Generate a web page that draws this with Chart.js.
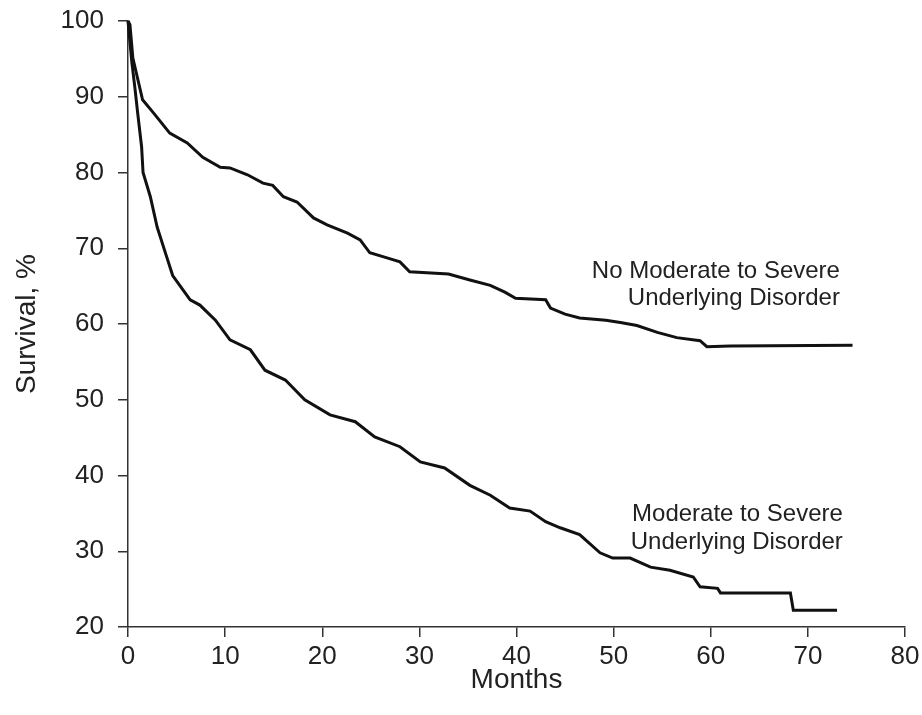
<!DOCTYPE html>
<html>
<head>
<meta charset="utf-8">
<script src="https://cdn.jsdelivr.net/npm/chart.js@4/dist/chart.umd.min.js"></script>
<style>
  html, body { margin: 0; padding: 0; background: #fff; }
</style>
</head>
<body>
<canvas id="chart" width="922" height="715"></canvas>
<script>
// ------------ DATA ------------------

const monthTicks = [0, 10, 20, 30, 40, 50, 60, 70, 80];
const survivalTicks = [20, 30, 40, 50, 60, 70, 80, 90, 100];

// No moderate to severe underlying disorder
const upperMonths = [0, 0.2, 0.5, 1.5, 2.6, 4.3, 6.1, 7.7, 9.5, 10.5, 12.3, 13.9, 14.9, 16.0, 17.4, 19.1, 20.5, 22.6, 23.9, 24.9, 26.5, 28.0, 29.0, 33.0, 35.2, 37.3, 38.8, 39.9, 43.0, 43.5, 45.0, 46.5, 49.2, 50.7, 52.4, 54.5, 56.5, 58.9, 59.6, 62.0, 74.6];
const upperSurvival = [100, 99.5, 95.1, 89.6, 87.9, 85.2, 83.9, 82.0, 80.7, 80.6, 79.7, 78.6, 78.3, 76.8, 76.1, 74.0, 73.1, 72.0, 71.1, 69.4, 68.8, 68.2, 66.9, 66.6, 65.8, 65.1, 64.2, 63.4, 63.2, 62.1, 61.3, 60.8, 60.5, 60.2, 59.8, 58.9, 58.2, 57.8, 57.0, 57.1, 57.2];

// Moderate to severe underlying disorder
const lowerMonths = [0, 0.4, 0.7, 1.0, 1.4, 1.55, 2.3, 3.0, 4.0, 4.6, 6.4, 7.4, 9.0, 10.5, 12.6, 14.1, 16.2, 18.2, 20.8, 23.4, 25.4, 28.0, 30.1, 32.6, 35.2, 37.3, 39.3, 41.4, 43.0, 44.5, 46.5, 48.6, 49.9, 51.7, 53.8, 55.8, 58.2, 58.9, 60.7, 61.0, 68.2, 68.5, 73.0];
const lowerSurvival = [100, 94.5, 91.3, 87.8, 83.4, 80.0, 76.8, 72.8, 68.8, 66.4, 63.2, 62.5, 60.5, 57.9, 56.6, 53.9, 52.6, 50.0, 48.0, 47.1, 45.1, 43.8, 41.8, 41.0, 38.7, 37.4, 35.7, 35.3, 33.9, 33.1, 32.2, 29.8, 29.1, 29.1, 27.9, 27.5, 26.6, 25.3, 25.1, 24.5, 24.5, 22.2, 22.2];

const upperLabel = ["No Moderate to Severe", "Underlying Disorder"];
const lowerLabel = ["Moderate to Severe", "Underlying Disorder"];

const FONT = '"Liberation Sans", Arial, Helvetica, sans-serif';
const INK = "#222";

const toPoints = (xs, ys) => xs.map((m, i) => ({ x: m, y: ys[i] }));

// ------------ CURVE LABELS ------------------

const curveLabels = {
    id: "curveLabels",
    afterDatasetsDraw(chart) {
        const { ctx, scales: { x, y } } = chart;
        ctx.save();
        ctx.font = "24px " + FONT;
        ctx.fillStyle = INK;
        ctx.textAlign = "right";
        ctx.textBaseline = "middle";
        const upperY = [67.0, 63.4];
        const lowerY = [34.9, 31.2];
        upperLabel.forEach((t, i) => ctx.fillText(t, x.getPixelForValue(73.3), y.getPixelForValue(upperY[i])));
        lowerLabel.forEach((t, i) => ctx.fillText(t, x.getPixelForValue(73.6), y.getPixelForValue(lowerY[i])));
        ctx.restore();
    },
};

// ------------ CREATE CHART ------------------

const ctx = document.getElementById("chart");

new Chart(ctx, {
    type: "line",
    data: {
        datasets: [
            {
                label: "No Moderate to Severe Underlying Disorder",
                data: toPoints(upperMonths, upperSurvival),
                borderColor: "#111",
                borderWidth: 3,
                pointRadius: 0,
                tension: 0,
                clip: false,
            },
            {
                label: "Moderate to Severe Underlying Disorder",
                data: toPoints(lowerMonths, lowerSurvival),
                borderColor: "#111",
                borderWidth: 3,
                pointRadius: 0,
                tension: 0,
                clip: false,
            },
        ],
    },
    options: {
        responsive: false,
        animation: false,
        layout: {
            padding: { top: 21, right: 17, left: 0, bottom: 0 },
        },
        plugins: {
            legend: { display: false },
            tooltip: { enabled: false },
        },
        scales: {
            x: {
                type: "linear",
                min: 0,
                max: 80,
                afterBuildTicks: (s) => { s.ticks = monthTicks.map((v) => ({ value: v })); },
                afterFit: (s) => {
                    s.height = 88;
                    s.paddingLeft = 0;
                    s.paddingRight = 0;
                },
                ticks: {
                    font: { family: FONT, size: 26 },
                    color: INK,
                    padding: 4,
                    maxRotation: 0,
                },
                grid: {
                    drawOnChartArea: false,
                    drawTicks: true,
                    tickLength: 10,
                    color: "#333",
                    lineWidth: 1.5,
                },
                border: { display: true, color: "#333", width: 1.5 },
                title: {
                    display: true,
                    text: "Months",
                    font: { family: FONT, size: 28 },
                    color: INK,
                    padding: { top: 0, bottom: 18 },
                },
            },
            y: {
                min: 20,
                max: 100,
                afterBuildTicks: (s) => { s.ticks = survivalTicks.map((v) => ({ value: v })); },
                afterFit: (s) => {
                    s.width = 128;
                    s.paddingTop = 0;
                    s.paddingBottom = 0;
                },
                ticks: {
                    font: { family: FONT, size: 26 },
                    color: INK,
                    padding: 14,
                },
                grid: {
                    drawOnChartArea: false,
                    drawTicks: true,
                    tickLength: 10,
                    color: "#333",
                    lineWidth: 1.5,
                },
                border: { display: true, color: "#333", width: 1.5 },
                title: {
                    display: true,
                    text: "Survival, %",
                    font: { family: FONT, size: 28 },
                    color: INK,
                    padding: { top: 10, bottom: 0 },
                },
            },
        },
    },
    plugins: [curveLabels],
});
</script>
</body>
</html>
